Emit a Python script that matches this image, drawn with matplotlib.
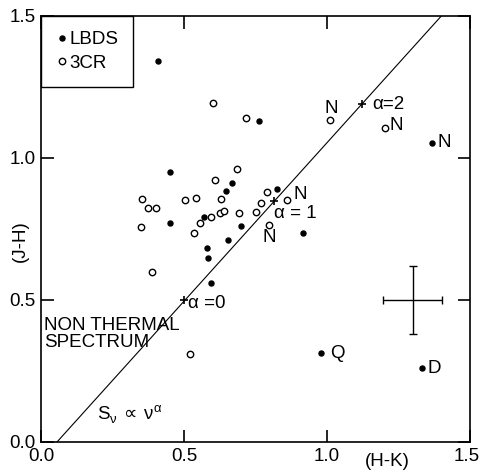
import matplotlib
matplotlib.use('Agg')
import matplotlib.pyplot as plt
from matplotlib.lines import Line2D
from matplotlib.transforms import ScaledTranslation

plt.rcParams['font.family'] = ['Liberation Sans Narrow', 'Liberation Sans', 'DejaVu Sans']

# LBDS (filled dots): H-K, J-H
lbds_hk = [0.409, 0.761, 0.451, 0.647, 0.669, 0.569, 0.451, 0.653, 0.579,
           0.583, 0.698, 0.827, 0.916, 1.367, 0.978, 1.331, 0.594]
lbds_jh = [1.342, 1.131, 0.951, 0.883, 0.913, 0.792, 0.772, 0.711, 0.682,
           0.648, 0.762, 0.890, 0.737, 1.054, 0.313, 0.262, 0.561]

# 3CR (open circles)
cr_hk = [0.603, 0.717, 0.607, 0.686, 0.353, 0.373, 0.401, 0.503, 0.541,
         0.629, 0.627, 0.641, 0.596, 0.557, 0.351, 0.536, 0.389, 0.692,
         0.791, 0.769, 0.751, 0.860, 0.797, 1.010, 1.203, 0.521]
cr_jh = [1.195, 1.140, 0.924, 0.962, 0.855, 0.825, 0.823, 0.851, 0.859,
         0.857, 0.807, 0.814, 0.792, 0.770, 0.757, 0.735, 0.600, 0.806,
         0.881, 0.843, 0.810, 0.852, 0.764, 1.133, 1.105, 0.311]

# power law line S ~ nu^alpha and alpha marks
line_hk = [0.056, 1.40]
line_jh = [0.0, 1.5]
alpha_hk = [0.50, 0.815, 1.122]
alpha_jh = [0.50, 0.848, 1.19]

# typical error bar
err_hk, err_jh = 1.30, 0.50
err_x, err_y = 0.103, 0.12

ticks = [0.0, 0.5, 1.0, 1.5]
tick_labels = ['0.0', '0.5', '1.0', '1.5']

fig = plt.figure(figsize=(4.81, 4.70), dpi=100)
ax = fig.add_axes([0.0852, 0.0596, 0.8918, 0.9064])

ax.plot(line_hk, line_jh, color='black', lw=0.8)
ax.plot(alpha_hk, alpha_jh, '+', color='black', ms=6, mew=1.2)
ax.plot(lbds_hk, lbds_jh, 'o', color='black', ms=3.6, ls='none')
ax.plot(cr_hk, cr_jh, 'o', mfc='white', mec='black', ms=4.6, mew=1.0, ls='none')
ax.errorbar(err_hk, err_jh, xerr=err_x, yerr=err_y, color='black',
            lw=1.0, capsize=3, capthick=1.0)

fs = 13.5
ax.text(1.16, 1.19, 'α=2', fontsize=fs, va='center')
ax.text(0.815, 0.805, 'α = 1', fontsize=fs, va='center')
ax.text(0.514, 0.486, 'α =0', fontsize=fs, va='center')
ax.text(0.905, 0.872, 'N', fontsize=fs, ha='center', va='center')
ax.text(0.797, 0.72, 'N', fontsize=fs, ha='center', va='center')
ax.text(1.014, 1.175, 'N', fontsize=fs, ha='center', va='center')
ax.text(1.22, 1.113, 'N', fontsize=fs, va='center')
ax.text(1.385, 1.055, 'N', fontsize=fs, va='center')
ax.text(1.01, 0.313, 'Q', fontsize=fs, va='center')
ax.text(1.35, 0.26, 'D', fontsize=fs, va='center')
ax.text(0.012, 0.44, 'NON THERMAL\nSPECTRUM', fontsize=fs, va='top',
        linespacing=1.0)
ax.text(0.195, 0.10, r'S$_{\mathregular{ν}}\,\propto\,$ν$^{\mathregular{α}}$',
        fontsize=fs, va='center')

ax.set_xlim(0, 1.5)
ax.set_ylim(0, 1.5)
ax.set_xticks(ticks, labels=tick_labels)
ax.set_yticks(ticks, labels=tick_labels)
ax.tick_params(direction='in', length=9, width=1.2, top=True, right=True,
               labelsize=fs, pad=4)
for s in ax.spines.values():
    s.set_linewidth(1.2)

# keep the last x label inside the figure
last = ax.get_xticklabels()[-1]
last.set_transform(last.get_transform() + ScaledTranslation(-0.03, 0, fig.dpi_scale_trans))

ax.text(-0.049, 0.472, '(J-H)', rotation=90, ha='center', va='center',
        fontsize=fs, transform=ax.transAxes)
ax.text(0.807, -0.026, '(H-K)', ha='center', va='top', fontsize=fs,
        transform=ax.transAxes)

handles = [Line2D([], [], marker='o', color='black', ms=3.6, ls='none'),
           Line2D([], [], marker='o', mfc='white', mec='black', ms=4.6, ls='none')]
leg = ax.legend(handles, ['LBDS', '3CR'], loc='upper left', borderaxespad=0,
                fancybox=False, edgecolor='black', framealpha=1, fontsize=fs,
                handlelength=0.6, handletextpad=0.1, borderpad=0.8,
                labelspacing=0.35)
leg.get_frame().set_linewidth(1.0)

fig.savefig('out.png', dpi=100)
